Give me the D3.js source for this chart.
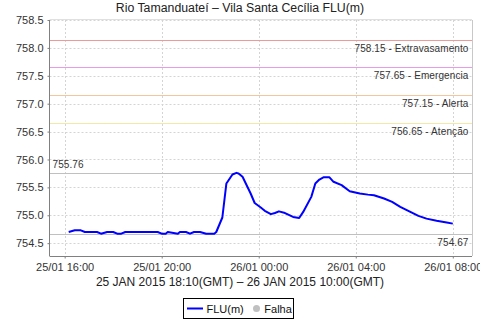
<!DOCTYPE html>
<html><head><meta charset="utf-8">
<script src="https://cdn.jsdelivr.net/npm/d3@7/dist/d3.min.js"></script>
<style>
html,body{margin:0;padding:0;background:#fff;}
svg{display:block;font-family:"Liberation Sans",Arial,sans-serif;}
</style></head>
<body><svg id="c" width="480" height="320"></svg>
<script>
const title = "Rio Tamanduateí – Vila Santa Cecília FLU(m)";
const subtitle = "25 JAN 2015 18:10(GMT) – 26 JAN 2015 10:00(GMT)";
const times = ["2015-01-25 16:10","2015-01-25 16:25","2015-01-25 16:40","2015-01-25 16:50","2015-01-25 17:20","2015-01-25 17:30","2015-01-25 17:45","2015-01-25 18:00","2015-01-25 18:10","2015-01-25 18:20","2015-01-25 18:30","2015-01-25 19:50","2015-01-25 20:00","2015-01-25 20:10","2015-01-25 20:15","2015-01-25 20:40","2015-01-25 20:45","2015-01-25 21:00","2015-01-25 21:10","2015-01-25 21:20","2015-01-25 21:35","2015-01-25 21:50","2015-01-25 22:10","2015-01-25 22:15","2015-01-25 22:30","2015-01-25 22:40","2015-01-25 22:55","2015-01-25 23:05","2015-01-25 23:10","2015-01-25 23:20","2015-01-25 23:40","2015-01-25 23:50","2015-01-26 00:05","2015-01-26 00:15","2015-01-26 00:30","2015-01-26 00:40","2015-01-26 00:50","2015-01-26 01:05","2015-01-26 01:25","2015-01-26 01:40","2015-01-26 01:50","2015-01-26 02:10","2015-01-26 02:20","2015-01-26 02:30","2015-01-26 02:40","2015-01-26 02:55","2015-01-26 03:05","2015-01-26 03:25","2015-01-26 03:45","2015-01-26 04:10","2015-01-26 04:30","2015-01-26 04:45","2015-01-26 05:10","2015-01-26 05:30","2015-01-26 05:50","2015-01-26 06:15","2015-01-26 06:35","2015-01-26 06:55","2015-01-26 07:20","2015-01-26 07:45","2015-01-26 08:00"];
const values = [754.70,754.73,754.73,754.70,754.70,754.67,754.70,754.70,754.67,754.67,754.70,754.70,754.67,754.67,754.70,754.67,754.70,754.70,754.67,754.70,754.70,754.67,754.67,754.70,754.96,755.57,755.73,755.76,755.75,755.69,755.39,755.22,755.14,755.08,755.02,755.04,755.07,755.04,754.97,754.95,755.06,755.33,755.57,755.64,755.68,755.68,755.60,755.54,755.43,755.39,755.37,755.36,755.30,755.24,755.15,755.06,754.99,754.94,754.90,754.87,754.85];
const yTicks = [754.5,755.0,755.5,756.0,756.5,757.0,757.5,758.0,758.5];
const thresholdValues = [758.15,757.65,757.15,756.65];
const thresholdNames = ["Extravasamento","Emergencia","Alerta","Atenção"];
const thresholdColors = ["#ec9a9a","#e89ce8","#f3c79b","#f3e9a6"];
const legendItems = ["FLU(m)","Falha"];

const parse = d3.utcParse("%Y-%m-%d %H:%M");
const data = times.map((t,i)=>({t:parse(t), v:values[i]}));

const L=49.5, R=472, T=20, B=256;
const svg = d3.select("#c");
const t0 = data[0].t, t1 = data[data.length-1].t;
const pad = (t1 - t0)*0.05;
const x = d3.scaleUtc().domain([new Date(+t0 - pad), new Date(+t1 + pad)]).range([L,R]);
const y = d3.scaleLinear().domain([754.27,758.5]).range([B,T]);
const xTicks = d3.utcHour.every(4).range(new Date(+t0 - pad), new Date(+t1 + pad + 1));

// grid
const grid = svg.append("g").attr("stroke","#d4d4d4").attr("stroke-dasharray","2,2").attr("stroke-width",1);
grid.selectAll(".gy").data(yTicks).join("line")
  .attr("x1",L).attr("x2",R).attr("y1",d=>Math.round(y(d))+0.5).attr("y2",d=>Math.round(y(d))+0.5);
grid.selectAll(".gx").data(xTicks).join("line")
  .attr("y1",T).attr("y2",B).attr("x1",d=>Math.round(x(d))+0.5).attr("x2",d=>Math.round(x(d))+0.5);

// plot border top/right
svg.append("line").attr("x1",R+0.5).attr("x2",R+0.5).attr("y1",T).attr("y2",B).attr("stroke","#c8c8c8");
svg.append("line").attr("x1",L).attr("x2",R).attr("y1",T-0.5).attr("y2",T-0.5).attr("stroke","#e0e0e0");

// threshold markers
thresholdValues.forEach((v,i)=>{
  const yy = Math.round(y(v))+0.5;
  svg.append("line").attr("x1",L).attr("x2",R).attr("y1",yy).attr("y2",yy)
    .attr("stroke",thresholdColors[i]).attr("stroke-width",1.2);
  svg.append("text").attr("x",468.5).attr("y",yy+11.5).attr("text-anchor","end")
    .attr("font-size",10).attr("fill","#333").attr("letter-spacing","0.1")
    .text(d3.format(".2f")(v)+" - "+thresholdNames[i]);
});

// max/min markers
const vmax = d3.max(values), vmin = d3.min(values);
const ymax = Math.round(y(vmax))+0.5, ymin = Math.round(y(vmin))+0.5;
svg.append("line").attr("x1",L).attr("x2",R).attr("y1",ymax).attr("y2",ymax).attr("stroke","#c0c0c0").attr("stroke-width",1.2);
svg.append("line").attr("x1",L).attr("x2",R).attr("y1",ymin).attr("y2",ymin).attr("stroke","#c0c0c0").attr("stroke-width",1.2);
svg.append("text").attr("x",52.5).attr("y",ymax-5.5).attr("font-size",10).attr("fill","#333").attr("letter-spacing","0.1").text(d3.format(".2f")(vmax));
svg.append("text").attr("x",468.5).attr("y",ymin+11).attr("text-anchor","end").attr("font-size",10).attr("fill","#333").attr("letter-spacing","0.1").text(d3.format(".2f")(vmin));

// line
svg.append("path").datum(data)
  .attr("d", d3.line().x(d=>x(d.t)).y(d=>y(d.v)))
  .attr("fill","none").attr("stroke","#0000ff").attr("stroke-width",2).attr("stroke-linejoin","round");

// axes
const ax = svg.append("g").attr("transform",`translate(0,${B+0.5})`)
  .call(d3.axisBottom(x).tickValues(xTicks).tickFormat(d3.utcFormat("%d/%m %H:%M")).tickSize(2).tickPadding(4.5));
const ay = svg.append("g").attr("transform",`translate(${L},0)`)
  .call(d3.axisLeft(y).tickValues(yTicks).tickFormat(d3.format(".1f")).tickSize(2).tickPadding(4));
[ax,ay].forEach(g=>{
  g.select(".domain").attr("stroke","#808080");
  g.selectAll(".tick line").attr("stroke","#808080");
  g.selectAll(".tick text").attr("font-family","Liberation Sans, Arial, sans-serif").attr("font-size",11).attr("fill","#333");
});
ax.select(".domain").attr("d",`M${L},0H${R}`);
ay.select(".domain").attr("d",`M0,${T}V${B}`);

// title & subtitle
svg.append("text").attr("x",240).attr("y",12).attr("text-anchor","middle").attr("font-size",12.3).attr("fill","#222").text(title);
svg.append("text").attr("x",240).attr("y",285.5).attr("text-anchor","middle").attr("font-size",12).attr("fill","#222").text(subtitle);

// legend
const lg = svg.append("g");
lg.append("rect").attr("x",183.5).attr("y",298.5).attr("width",110).attr("height",20).attr("fill","#fff").attr("stroke","#000");
lg.append("line").attr("x1",187).attr("x2",203).attr("y1",308.5).attr("y2",308.5).attr("stroke","#0000ff").attr("stroke-width",2);
lg.append("text").attr("x",206.5).attr("y",312.5).attr("font-size",11).attr("fill","#111").text(legendItems[0]);
lg.append("circle").attr("cx",256.5).attr("cy",308.5).attr("r",3.5).attr("fill","#c0c0c0");
lg.append("text").attr("x",264.3).attr("y",312.5).attr("font-size",11).attr("fill","#111").text(legendItems[1]);
</script></body></html>
